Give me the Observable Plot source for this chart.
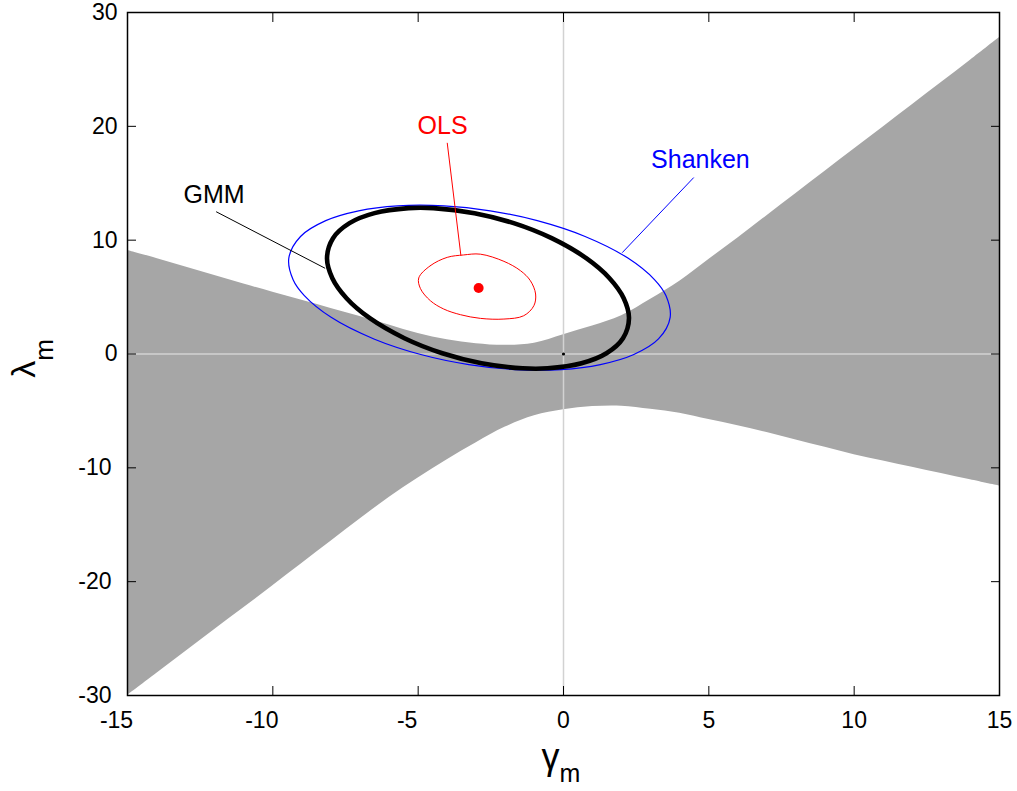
<!DOCTYPE html>
<html><head><meta charset="utf-8">
<script src="https://cdn.jsdelivr.net/npm/d3@7"></script>
<script src="https://cdn.jsdelivr.net/npm/@observablehq/plot@0.6"></script>
<style>body{margin:0;background:#fff;} svg{display:block;}</style>
</head><body><div id="chart"></div>
<script>
// Confidence region (gray band): lower and upper bound of lambda_m per gamma_m
const gammaGrid  = [-15,-14,-13,-12,-11,-10,-9,-8,-7,-6,-5,-4,-3,-2,-1,0,1,2,3,4,5,6,7,8,9,10,11,12,13,14,15];
const upperBound = [9.1,8.4,7.65,6.9,6.15,5.42,4.72,4.0,3.3,2.55,1.8,1.25,0.9,0.76,0.95,1.7,2.45,3.35,4.8,6.4,8.3,10.2,12.15,14.1,16.05,18.0,19.95,21.9,23.85,25.8,27.8];
const lowerBound = [-30.0,-28.07,-26.14,-24.2,-22.3,-20.35,-18.4,-16.45,-14.5,-12.6,-10.9,-9.28,-7.8,-6.42,-5.42,-4.9,-4.62,-4.58,-4.85,-5.2,-5.75,-6.3,-6.9,-7.55,-8.2,-8.85,-9.4,-9.95,-10.5,-11.05,-11.6];

// Confidence ellipses (points read around each contour)
const gmmX = [-8.136,-7.929,-7.362,-6.502,-5.335,-4.475,-3.062,-1.713,-0.409,0.781,1.582,2.071,2.253,2.047,1.479,0.619,-0.547,-1.407,-2.821,-4.169,-5.473,-6.663,-7.465,-7.953];
const gmmY = [8.418,10.176,11.495,12.374,12.813,12.813,12.374,11.495,10.176,8.418,6.659,4.901,3.143,1.385,0.066,-0.813,-1.253,-1.253,-0.813,0.066,1.385,3.143,4.901,6.659];
const shankenX = [-9.302,-9.450,-9.047,-8.180,-7.049,-5.703,-4.111,-2.522,-0.901,0.743,2.215,3.137,3.523,3.670,3.268,2.401,1.269,-0.076,-1.668,-3.258,-4.878,-6.522,-7.995,-8.916];
const shankenY = [6.519,8.426,10.325,11.714,12.576,13.015,13.015,12.576,11.714,10.325,8.426,6.519,5.130,3.222,1.323,-0.066,-0.927,-1.367,-1.367,-0.927,-0.066,1.323,3.222,5.130];
const olsX = [-4.98,-4.58,-4.00,-3.44,-2.86,-2.05,-1.48,-1.14,-0.96,-1.02,-1.37,-2.05,-2.86,-3.54,-4.12,-4.58,-4.92];
const olsY = [6.68,7.76,8.49,8.70,8.77,8.14,7.32,6.44,5.27,4.24,3.36,3.07,3.13,3.45,3.95,4.68,5.74];

// Point estimates
const olsPoint = {x: -2.92, y: 5.8};
const originPoint = {x: 0, y: 0};

// Annotations
const labelNames = ["OLS", "Shanken", "GMM"];
const labelColors = ["#ff0000", "#0000ff", "#000000"];
const labelX = [-4.16, 4.71, -12.02];
const labelY = [20.0, 17.0, 14.0];
const leaderX1 = [-4.0, 4.48, -11.95];
const leaderY1 = [18.55, 15.5, 12.5];
const leaderX2 = [-3.53, 2.02, -8.2];
const leaderY2 = [8.64, 8.9, 7.53];

// Axes
const xTicks = [-15,-10,-5,0,5,10,15];
const yTicks = [-30,-20,-10,0,10,20,30];

const band = gammaGrid.map((g, i) => ({g, lo: lowerBound[i], hi: upperBound[i]}));
const pts = (xs, ys) => xs.map((x, i) => ({x, y: ys[i]}));
const fmt = d => String(d);
const FONT = "'Liberation Sans', Arial, Helvetica, sans-serif";

const marks = [
  Plot.areaY(band, {x: "g", y1: "lo", y2: "hi", fill: "#a6a6a6", curve: "catmull-rom"}),
  Plot.ruleX([0], {stroke: "#d2d2d2", strokeWidth: 1.5}),
  Plot.ruleY([0], {stroke: "#d2d2d2", strokeWidth: 1.5}),
  Plot.line(pts(shankenX, shankenY), {x: "x", y: "y", stroke: "#0000ff", strokeWidth: 1.2, curve: "catmull-rom-closed"}),
  Plot.line(pts(gmmX, gmmY), {x: "x", y: "y", stroke: "#000000", strokeWidth: 4.6, curve: "catmull-rom-closed"}),
  Plot.line(pts(olsX, olsY), {x: "x", y: "y", stroke: "#ff0000", strokeWidth: 1, curve: "catmull-rom-closed"}),
  Plot.dot([olsPoint], {x: "x", y: "y", r: 5, fill: "#ff0000", stroke: null}),
  Plot.dot([originPoint], {x: "x", y: "y", r: 1.6, fill: "#000000", stroke: null})
];
labelNames.forEach((name, i) => {
  marks.push(Plot.link([i], {x1: d => leaderX1[d], y1: d => leaderY1[d], x2: d => leaderX2[d], y2: d => leaderY2[d], stroke: labelColors[i], strokeWidth: 1}));
  marks.push(Plot.text([i], {x: d => labelX[d], y: d => labelY[d], text: d => labelNames[d], fill: labelColors[i], fontSize: 25, textAnchor: "middle"}));
});
marks.push(
  Plot.frame({stroke: "#000", strokeWidth: 1.5}),
  Plot.axisX(xTicks, {anchor: "bottom", tickSize: -9, tickFormat: () => "", strokeWidth: 1}),
  Plot.axisX(xTicks, {anchor: "top", tickSize: -9, tickFormat: () => "", strokeWidth: 1}),
  Plot.axisY(yTicks, {anchor: "left", tickSize: -9, tickFormat: () => "", strokeWidth: 1}),
  Plot.axisY(yTicks, {anchor: "right", tickSize: -9, tickFormat: () => "", strokeWidth: 1}),
  Plot.axisX(xTicks.filter(d => d < 0), {anchor: "bottom", tickSize: 0, tickPadding: 16, dx: -11, tickFormat: fmt, fontSize: 23, fill: "#000"}),
  Plot.axisX(xTicks.filter(d => d >= 0), {anchor: "bottom", tickSize: 0, tickPadding: 16, tickFormat: fmt, fontSize: 23, fill: "#000"}),
  Plot.axisY(yTicks.filter(d => d < 0), {anchor: "left", tickSize: 0, tickPadding: 10, dx: -6, tickFormat: fmt, fontSize: 23, fill: "#000"}),
  Plot.axisY(yTicks.filter(d => d >= 0), {anchor: "left", tickSize: 0, tickPadding: 10, tickFormat: fmt, fontSize: 23, fill: "#000"})
);

const chart = Plot.plot({
  width: 1017, height: 791,
  marginLeft: 127, marginRight: 18, marginTop: 12, marginBottom: 96,
  style: {fontFamily: FONT, background: "#fff", color: "#000"},
  x: {domain: [-15, 15], axis: null},
  y: {domain: [-30, 30], axis: null},
  marks
});

// Axis titles with subscripts
const svg = d3.select(chart);
const xs = chart.scale("x"), ys = chart.scale("y");
const tx = svg.append("text")
  .attr("x", xs.apply(0) - 2).attr("y", 769)
  .attr("text-anchor", "middle").attr("font-family", FONT).attr("font-size", 36).attr("fill", "#000");
tx.append("tspan").text("γ");
tx.append("tspan").attr("font-size", 25).attr("dy", 13).text("m");
const ty = svg.append("text")
  .attr("transform", `translate(35,${ys.apply(0) + 5}) rotate(-90)`)
  .attr("text-anchor", "middle").attr("font-family", FONT).attr("font-size", 34).attr("fill", "#000");
ty.append("tspan").text("λ");
ty.append("tspan").attr("font-size", 26).attr("dy", 18).text("m");

document.getElementById("chart").appendChild(chart);
</script>
</body></html>
